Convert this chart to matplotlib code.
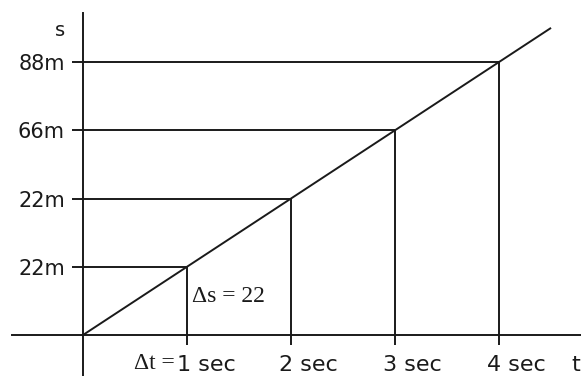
import matplotlib
matplotlib.use("Agg")
import matplotlib.pyplot as plt

# data
times = [1, 2, 3, 4]
positions = [22, 44, 66, 88]
ytick_labels = ["22m", "22m", "66m", "88m"]
xtick_labels = ["1 sec", "2 sec", "3 sec", "4 sec"]
line_t = [0, 1, 2, 3, 4, 4.5]
line_s = [0, 22, 44, 66, 88, 99]

C = "#1a1a1a"
LW = 1.4
SANS = ["DejaVu Sans"]
SERIF = ["Liberation Serif", "DejaVu Serif"]

fig = plt.figure(figsize=(5.81, 3.76), dpi=100)
ax = fig.add_axes([12 / 581, 0, 569 / 581, 363 / 376])
ax.set_xlim(-0.6827, 4.788)
ax.set_ylim(-13.22, 103.8)

for s in ["top", "right"]:
    ax.spines[s].set_visible(False)
ax.spines["left"].set_position(("data", 0))
ax.spines["bottom"].set_position(("data", 0))
for s in ["left", "bottom"]:
    ax.spines[s].set_color(C)
    ax.spines[s].set_linewidth(LW)

ax.set_yticks(positions)
ax.set_yticklabels(ytick_labels, fontsize=15, family=SANS, color=C)
ax.tick_params(axis="y", direction="out", length=8, width=LW, color=C, pad=5)
ax.set_xticks(times)
ax.set_xticklabels([])
ax.tick_params(axis="x", direction="out", length=7.2, width=LW, color=C)

# diagonal
ax.plot(line_t, line_s, color=C, lw=LW, solid_capstyle="butt")
# guides
for t, s in zip(times, positions):
    ax.plot([0, t], [s, s], color=C, lw=LW)
    ax.plot([t, t], [0, s], color=C, lw=LW)

# x labels
for t, lab in zip(times, xtick_labels):
    off = -0.12 if t > 1 else -0.10
    ax.text(t + off, -9.6, lab, fontsize=16, family=SANS, color=C,
            ha="left", va="center", clip_on=False)
ax.text(0.88, -9.2, "Δt =", fontsize=17, family=SERIF, color=C,
        ha="right", va="center", clip_on=False)
ax.text(4.78, -9.6, "t", fontsize=16, family=SANS, color=C,
        ha="right", va="center", clip_on=False)
ax.text(-0.22, 98, "s", fontsize=14, family=SANS, color=C,
        ha="center", va="center", clip_on=False)
ax.text(1.05, 12.3, "Δs = 22", fontsize=17, family=SERIF, color=C,
        ha="left", va="center", clip_on=False)

fig.savefig("out.png", dpi=100)
